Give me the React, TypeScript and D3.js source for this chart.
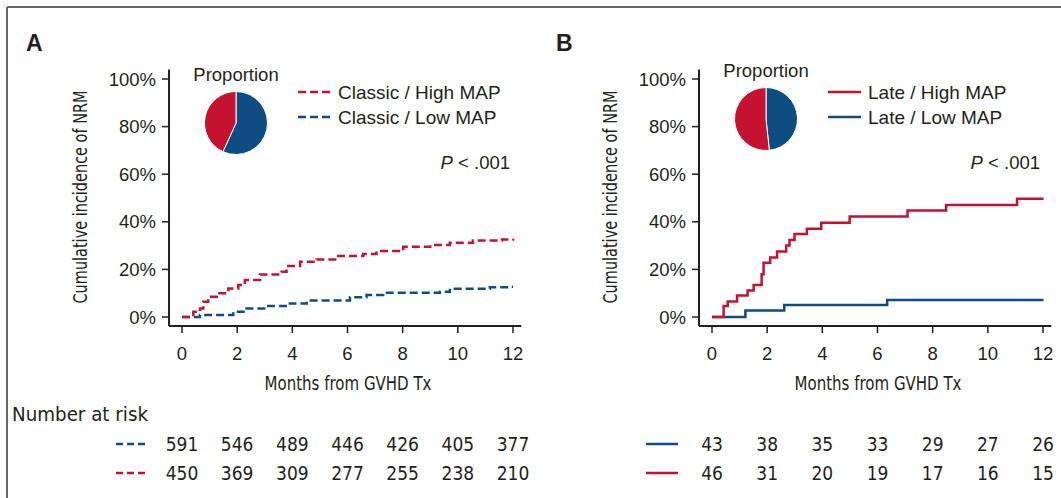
import React from 'react';
import * as d3 from 'd3';

const width = 1061;
const height = 498;
const red = '#c41230';
const blue = '#0f4c81';
const ink = '#231f20';
const narrow = '"Liberation Sans Narrow", "DejaVu Sans Condensed", sans-serif';
const sans = '"Liberation Sans", Arial, sans-serif';

const monthTicks = [0, 2, 4, 6, 8, 10, 12];
const pctTicks = [0, 20, 40, 60, 80, 100];

// [month, cumulative incidence %]
const classicHigh = [
  [0, 0], [0.41, 2.2], [0.65, 3.6], [0.77, 6.4], [0.95, 8.5], [1.26, 10], [1.68, 12],
  [2.04, 13.4], [2.28, 15.5], [2.83, 17.9], [3.61, 19], [3.79, 21.4], [4.28, 23.2],
  [4.88, 24.2], [5.6, 25.6], [6.57, 26.5], [7.05, 27.7], [8.02, 29.5], [9.0, 30.2],
  [9.71, 31.2], [10.55, 32.1], [11.6, 32.6], [12, 32.9],
];
const classicLow = [
  [0, 0], [0.65, 0.8], [1.86, 2.2], [2.34, 3.6], [3.07, 4.6], [3.91, 5.7], [4.52, 6.9],
  [6.09, 8.3], [6.69, 9.2], [7.29, 10.2], [9.35, 10.6], [9.71, 11.9], [11.16, 12.5],
  [11.85, 12.7], [12, 12.7],
];
const lateHigh = [
  [0, 0], [0.42, 4.6], [0.57, 6.5], [0.91, 9], [1.29, 11.1], [1.51, 13.4], [1.8, 18],
  [1.87, 22.8], [2.11, 25], [2.36, 27.5], [2.69, 30], [2.81, 32.4], [2.99, 34.9],
  [3.44, 37.1], [3.96, 39.6], [4.99, 42.2], [7.09, 44.7], [8.49, 47.1], [11.06, 49.7],
  [12.02, 49.7],
];
const lateLow = [
  [0, 0], [1.21, 2.7], [2.62, 5], [6.35, 7.1], [12.02, 7.1],
];

const riskClassicLow = [591, 546, 489, 446, 426, 405, 377];
const riskClassicHigh = [450, 369, 309, 277, 255, 238, 210];
const riskLateLow = [43, 38, 35, 33, 29, 27, 26];
const riskLateHigh = [46, 31, 20, 19, 17, 16, 15];

type PanelProps = {
  dx: number;
  label: string;
  high: number[][];
  low: number[][];
  highName: string;
  lowName: string;
  riskLow: number[];
  riskHigh: number[];
  dashed: boolean;
  pieY: number;
};

const Panel = ({ dx, label, high, low, highName, lowName, riskLow, riskHigh, dashed, pieY }: PanelProps) => {
  const x = d3.scaleLinear().domain([0, 12]).range([182 + dx, 513 + dx]);
  const y = d3.scaleLinear().domain([0, 100]).range([317, 79]);
  const line = d3.line<number[]>()
    .x(d => x(d[0]))
    .y(d => y(d[1]))
    .curve(d3.curveStepAfter);
  const dash = dashed ? '8,4' : undefined;
  const axisX = x(-0.47);
  const axisY = y(-3.8);

  const pie = d3.pie<number>().sort(null)([riskLow[0], riskHigh[0]]);
  const arc = d3.arc<d3.PieArcDatum<number>>().innerRadius(0).outerRadius(31.5);
  const pieX = 236 + dx;

  return (
    <g>
      <text x={26 + dx} y={51} fontFamily={sans} fontWeight="bold" fontSize={23} fill={ink}>{label}</text>

      {/* axes */}
      <line x1={axisX} x2={axisX} y1={y(104)} y2={axisY} stroke={ink} strokeWidth={2} />
      <line x1={axisX} x2={x(12.3)} y1={axisY} y2={axisY} stroke={ink} strokeWidth={2} />
      {pctTicks.map(t => (
        <g key={t}>
          <line x1={axisX - 7} x2={axisX} y1={y(t)} y2={y(t)} stroke={ink} strokeWidth={1.5} />
          <text x={axisX - 13} y={y(t) + 6.5} textAnchor="end" fontFamily={sans} fontSize={18.5} fill={ink}>{t}%</text>
        </g>
      ))}
      {monthTicks.map(t => (
        <g key={t}>
          <line x1={x(t)} x2={x(t)} y1={axisY} y2={axisY + 7} stroke={ink} strokeWidth={1.5} />
          <text x={x(t)} y={360} textAnchor="middle" fontFamily={sans} fontSize={18.5} fill={ink}>{t}</text>
        </g>
      ))}
      <text x={348 + dx} y={390} textAnchor="middle" fontFamily={narrow} fontSize={19}
        textLength={167} lengthAdjust="spacingAndGlyphs" fill={ink}>Months from GVHD Tx</text>
      <text transform={`translate(${87 + dx},197) rotate(-90)`} textAnchor="middle" fontFamily={narrow} fontSize={19}
        textLength={213} lengthAdjust="spacingAndGlyphs" fill={ink}>Cumulative incidence of NRM</text>

      {/* curves */}
      <path d={line(low) ?? ''} fill="none" stroke={blue} strokeWidth={2.5} strokeDasharray={dash} />
      <path d={line(high) ?? ''} fill="none" stroke={red} strokeWidth={2.5} strokeDasharray={dash} />

      {/* pie */}
      <text x={pieX} y={pieY - 42} textAnchor="middle" fontFamily={sans} fontSize={18.5} fill={ink}>Proportion</text>
      <g transform={`translate(${pieX},${pieY})`}>
        {pie.map((p, i) => (
          <path key={i} d={arc(p) ?? ''} fill={i === 0 ? blue : red} stroke="#fff" strokeWidth={1} />
        ))}
      </g>

      {/* legend */}
      <line x1={298 + dx} x2={331 + dx} y1={92} y2={92} stroke={red} strokeWidth={2.5} strokeDasharray={dash} />
      <text x={338 + dx} y={99} fontFamily={sans} fontSize={19} fill={ink}>{highName}</text>
      <line x1={298 + dx} x2={331 + dx} y1={117} y2={117} stroke={blue} strokeWidth={2.5} strokeDasharray={dash} />
      <text x={338 + dx} y={124} fontFamily={sans} fontSize={19} fill={ink}>{lowName}</text>
      <text x={510 + dx} y={169} textAnchor="end" fontFamily={sans} fontSize={18.5} fill={ink}>
        <tspan fontStyle="italic">P</tspan> &lt; .001
      </text>

      {/* number at risk */}
      {[riskLow, riskHigh].map((row, r) => {
        const ry = 444 + r * 29;
        return (
          <g key={r}>
            <line x1={116 + dx} x2={148 + dx} y1={ry} y2={ry} stroke={r === 0 ? blue : red} strokeWidth={2.5}
              strokeDasharray={dashed ? '7,4' : undefined} />
            {row.map((n, i) => (
              <text key={i} x={x(monthTicks[i])} y={ry + 6.5} textAnchor="middle" fontFamily={narrow} fontSize={19} fill={ink}>{n}</text>
            ))}
          </g>
        );
      })}
    </g>
  );
};

export default function App() {
  return (
    <svg width={width} height={height} style={{ position: 'absolute', left: 0, top: 0, background: '#fff' }}>
      <rect width={width} height={height} fill="#fff" />
      <line x1={7} x2={width} y1={7} y2={7} stroke="#666" strokeWidth={2} />
      <line x1={7} x2={7} y1={7} y2={height} stroke="#666" strokeWidth={2} />
      <text x={12} y={421} fontFamily={narrow} fontSize={19} textLength={136} lengthAdjust="spacingAndGlyphs" fill={ink}>Number at risk</text>
      <Panel dx={0} label="A" high={classicHigh} low={classicLow} highName="Classic / High MAP" lowName="Classic / Low MAP"
        riskLow={riskClassicLow} riskHigh={riskClassicHigh} dashed pieY={123} />
      <Panel dx={530} label="B" high={lateHigh} low={lateLow} highName="Late / High MAP" lowName="Late / Low MAP"
        riskLow={riskLateLow} riskHigh={riskLateHigh} dashed={false} pieY={119} />
    </svg>
  );
}
